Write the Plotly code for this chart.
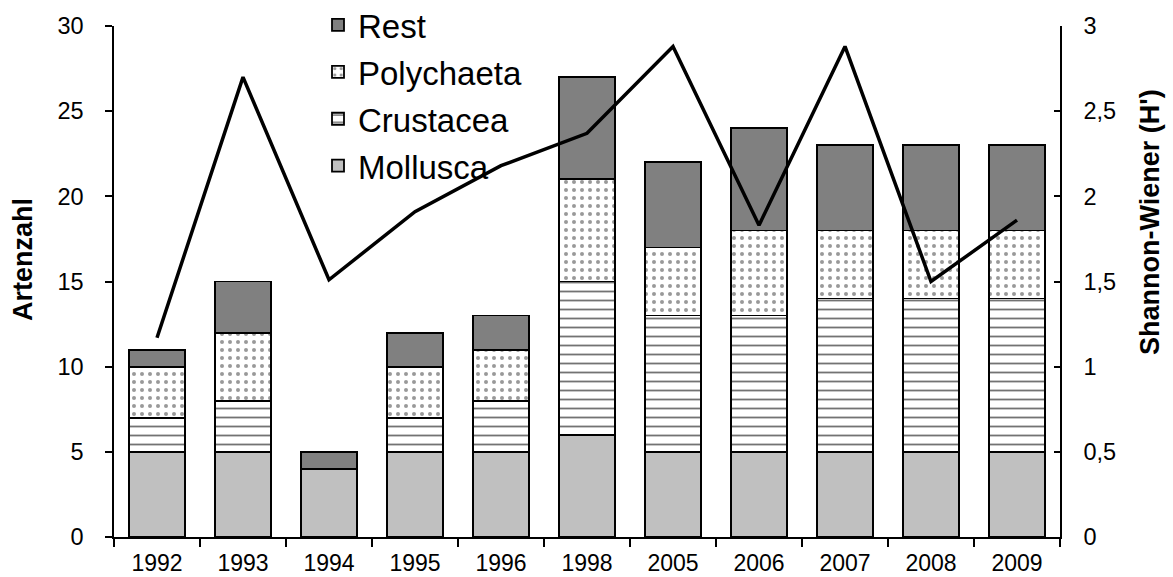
import plotly.graph_objects as go

years = ["1992", "1993", "1994", "1995", "1996", "1998", "2005", "2006", "2007", "2008", "2009"]
mollusca = [5, 5, 4, 5, 5, 6, 5, 5, 5, 5, 5]
crustacea = [2, 3, 0, 2, 3, 9, 8, 8, 9, 9, 9]
polychaeta = [3, 4, 0, 3, 3, 6, 4, 5, 4, 4, 4]
rest = [1, 3, 1, 2, 2, 6, 5, 6, 5, 5, 5]
shannon = [1.17, 2.70, 1.51, 1.91, 2.18, 2.37, 2.88, 1.83, 2.88, 1.50, 1.86]

FONT = "Liberation Sans, Arial, sans-serif"
W, H = 1173, 577
ML, MR, MT, MB = 114, 113, 26, 40
pw = W - ML - MR
ph = H - MT - MB

fig = go.Figure()
line_style = dict(color="black", width=1.8)

fig.add_trace(go.Bar(x=years, y=mollusca, name="Mollusca", legendgroup="m", legendrank=4,
                     marker=dict(color="#C0C0C0", line=line_style)))
fig.add_trace(go.Bar(x=years, y=crustacea, name="Crustacea", legendgroup="c", legendrank=3,
                     marker=dict(color="white", line=line_style,
                                 pattern=dict(shape="-", fgcolor="#444444", bgcolor="white",
                                              size=9, solidity=0.2, fgopacity=0.75))))
fig.add_trace(go.Bar(x=years, y=polychaeta, name="Polychaeta", legendgroup="p", legendrank=2,
                     marker=dict(color="white", line=line_style,
                                 pattern=dict(shape=".", fgcolor="#333333", bgcolor="white",
                                              size=8, solidity=0.2))))
fig.add_trace(go.Bar(x=years, y=rest, name="Rest", legendgroup="r", legendrank=1,
                     marker=dict(color="#808080", line=line_style)))
fig.add_trace(go.Scatter(x=years, y=shannon, yaxis="y2", mode="lines", showlegend=False,
                         line=dict(color="black", width=3.5)))

fig.update_layout(
    width=W, height=H,
    margin=dict(l=ML, r=MR, t=MT, b=MB, pad=0, autoexpand=False),
    paper_bgcolor="white", plot_bgcolor="white",
    barmode="stack", bargap=0.34,
    separators=",.",
    font=dict(family=FONT, size=23, color="black"),
    xaxis=dict(type="category", tickson="boundaries", ticks="outside", ticklen=8,
               tickwidth=1.5, tickcolor="black", showline=True, linecolor="black",
               linewidth=1.5, showgrid=False, zeroline=False,
               tickfont=dict(size=23), ticklabelstandoff=5),
    yaxis=dict(range=[0, 30], dtick=5, ticks="outside", ticklen=7, tickwidth=1.5,
               tickcolor="black", showline=True, linecolor="black", linewidth=1.5,
               showgrid=False, zeroline=False, tickfont=dict(size=23.5),
               ticklabelstandoff=17),
    yaxis2=dict(range=[0, 3], dtick=0.5, overlaying="y", side="right", ticks="inside",
                ticklen=6, tickwidth=1.5, tickcolor="black", showline=True,
                linecolor="black", linewidth=1.5, showgrid=False, zeroline=False,
                tickfont=dict(size=23.5), ticklabelstandoff=17),
    legend=dict(x=(318 - ML) / pw, y=(H - MB + 3) / ph, xanchor="left", yanchor="top",
                xref="paper", yref="paper",
                traceorder="grouped", tracegroupgap=1,
                bgcolor="rgba(0,0,0,0)", font=dict(size=33, family=FONT)),
    showlegend=True,
    annotations=[
        dict(text="<b>Artenzahl</b>", x=23, y=H - 260, xref="paper", yref="paper",
             xanchor="center", yanchor="middle",
             showarrow=False, textangle=-90, font=dict(size=27, family=FONT)),
        dict(text="<b>Shannon-Wiener (H')</b>", x=1150, y=H - 222, xref="paper",
             yref="paper", xanchor="center", yanchor="middle",
             showarrow=False, textangle=-90, font=dict(size=27, family=FONT)),
    ],
)
for a in fig.layout.annotations:
    a.x = (a.x - ML) / pw
    a.y = (a.y - MB) / ph

fig.write_html("out.html", config={"displayModeBar": False},
               post_script="document.body.style.margin='0';document.body.style.overflow='hidden';")
